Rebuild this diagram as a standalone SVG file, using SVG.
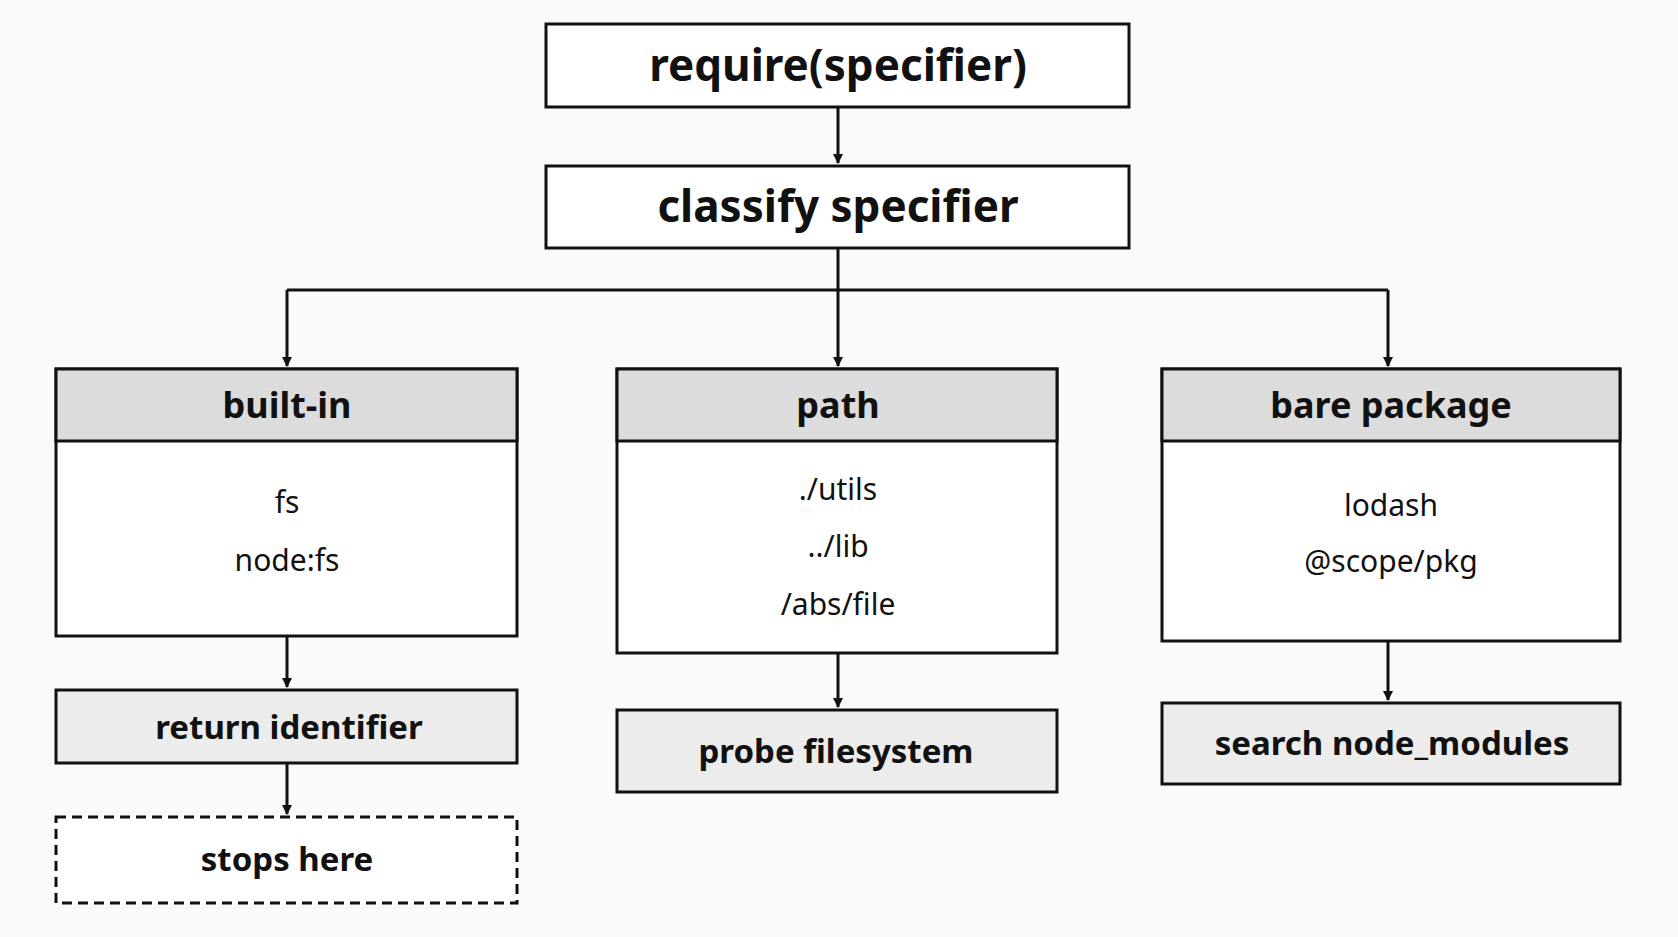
<svg xmlns="http://www.w3.org/2000/svg" width="1678" height="937" viewBox="0 0 1678 937">
<defs>
<marker id="ah" markerWidth="10" markerHeight="10" refX="9" refY="5" orient="auto" markerUnits="userSpaceOnUse" viewBox="0 0 10 10"><path d="M0,0 L10,5 L0,10 z" fill="#111"/></marker>
<style>
.b{fill:#fff;stroke:#111;stroke-width:3}
.g{fill:#ececec;stroke:#111;stroke-width:3}
.h{fill:#dcdcdc;stroke:#111;stroke-width:3}
.t{font-family:"Noto Sans","Liberation Sans",sans-serif;fill:#111;text-anchor:middle}
.tb{font-weight:bold}
.c{stroke:#111;stroke-width:3;fill:none;marker-end:url(#ah)}
</style>
</defs>
<rect width="1678" height="937" fill="#fafafa"/>
<g id="connectors">
<path class="c" d="M838,107 V163"/>
<path class="c" d="M838,248 V366"/>
<path class="c" d="M287,290 H1388 M287,290 V366"/>
<path class="c" d="M1388,290 V366"/>
<path class="c" d="M287,636 V687"/>
<path class="c" d="M287,763 V814"/>
<path class="c" d="M838,653 V707"/>
<path class="c" d="M1388,641 V700"/>
</g>
<g id="require"><rect class="b" x="546" y="24" width="583" height="83"/><text class="t tb" x="838" y="81" font-size="44">require(specifier)</text></g>
<g id="classify"><rect class="b" x="546" y="166" width="583" height="82"/><text class="t tb" x="838" y="222" font-size="44">classify specifier</text></g>
<g id="builtin"><rect class="b" x="56" y="369" width="461" height="267"/><rect class="h" x="56" y="369" width="461" height="72"/><text class="t tb" x="287" y="418" font-size="36">built-in</text><text class="t" x="287" y="513" font-size="30">fs</text><text class="t" x="287" y="571" font-size="30">node:fs</text></g>
<g id="path"><rect class="b" x="617" y="369" width="440" height="284"/><rect class="h" x="617" y="369" width="440" height="72"/><text class="t tb" x="838" y="418" font-size="36">path</text><text class="t" x="838" y="500" font-size="30">./utils</text><text class="t" x="838" y="557" font-size="30">../lib</text><text class="t" x="838" y="615" font-size="30">/abs/file</text></g>
<g id="bare"><rect class="b" x="1162" y="369" width="458" height="272"/><rect class="h" x="1162" y="369" width="458" height="72"/><text class="t tb" x="1391" y="418" font-size="36">bare package</text><text class="t" x="1391" y="516" font-size="30">lodash</text><text class="t" x="1391" y="572" font-size="30">@scope/pkg</text></g>
<g id="return"><rect class="g" x="56" y="690" width="461" height="73"/><text class="t tb" x="289" y="739" font-size="33">return identifier</text></g>
<g id="stops"><rect x="56" y="817" width="461" height="86" fill="#fff" stroke="#111" stroke-width="3" stroke-dasharray="10,6"/><text class="t tb" x="287" y="871" font-size="33">stops here</text></g>
<g id="probe"><rect class="g" x="617" y="710" width="440" height="82"/><text class="t tb" x="836" y="763" font-size="33">probe filesystem</text></g>
<g id="search"><rect class="g" x="1162" y="703" width="458" height="81"/><text class="t tb" x="1392" y="755" font-size="33">search node_modules</text></g>
</svg>
